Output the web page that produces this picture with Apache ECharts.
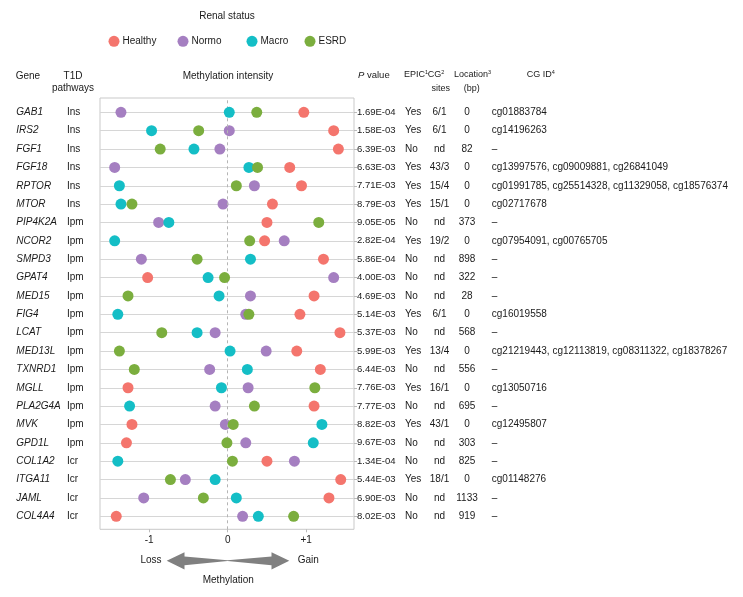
<!DOCTYPE html>
<html><head><meta charset="utf-8">
<script src="https://cdn.jsdelivr.net/npm/echarts@6/dist/echarts.min.js"></script>
<style>html,body{margin:0;padding:0;background:#fff}#c{width:743px;height:597px}</style>
</head><body><div id="c"></div>
<script>
const genes = ['GAB1','IRS2','FGF1','FGF18','RPTOR','MTOR','PIP4K2A','NCOR2','SMPD3','GPAT4','MED15','FIG4','LCAT','MED13L','TXNRD1','MGLL','PLA2G4A','MVK','GPD1L','COL1A2','ITGA11','JAML','COL4A4'];
const pathways = ['Ins','Ins','Ins','Ins','Ins','Ins','Ipm','Ipm','Ipm','Ipm','Ipm','Ipm','Ipm','Ipm','Ipm','Ipm','Ipm','Ipm','Ipm','Icr','Icr','Icr','Icr'];
const pValues = ['1.69E-04','1.58E-03','6.39E-03','6.63E-03','7.71E-03','8.79E-03','9.05E-05','2.82E-04','5.86E-04','4.00E-03','4.69E-03','5.14E-03','5.37E-03','5.99E-03','6.44E-03','7.76E-03','7.77E-03','8.82E-03','9.67E-03','1.34E-04','5.44E-03','6.90E-03','8.02E-03'];
const epic = ['Yes','Yes','No','Yes','Yes','Yes','No','Yes','No','No','No','Yes','No','Yes','No','Yes','No','Yes','No','No','Yes','No','No'];
const cgSites = ['6/1','6/1','nd','43/3','15/4','15/1','nd','19/2','nd','nd','nd','6/1','nd','13/4','nd','16/1','nd','43/1','nd','nd','18/1','nd','nd'];
const locations = ['0','0','82','0','0','0','373','0','898','322','28','0','568','0','556','0','695','0','303','825','0','1133','919'];
const cgIds = ['cg01883784','cg14196263','–','cg13997576, cg09009881, cg26841049','cg01991785, cg25514328, cg11329058, cg18576374','cg02717678','–','cg07954091, cg00765705','–','–','–','cg16019558','–','cg21219443, cg12113819, cg08311322, cg18378267','–','cg13050716','–','cg12495807','–','–','cg01148276','–','–'];

const seriesNames = ['Healthy','Normo','Macro','ESRD'];
const healthy = [0.97,1.35,1.41,0.79,0.94,0.57,0.50,0.47,1.22,-1.02,1.10,0.92,1.43,0.88,1.18,-1.27,1.10,-1.22,-1.29,0.50,1.44,1.29,-1.42];
const normo   = [-1.36,0.02,-0.10,-1.44,0.34,-0.06,-0.88,0.72,-1.10,1.35,0.29,0.23,-0.16,0.49,-0.23,0.26,-0.16,-0.03,0.23,0.85,-0.54,-1.07,0.19];
const macro   = [0.02,-0.97,-0.43,0.27,-1.38,-1.36,-0.75,-1.44,0.29,-0.25,-0.11,-1.40,-0.39,0.03,0.25,-0.08,-1.25,1.20,1.09,-1.40,-0.16,0.11,0.39];
const esrd    = [0.37,-0.37,-0.86,0.38,0.11,-1.22,1.16,0.28,-0.39,-0.04,-1.27,0.27,-0.84,-1.38,-1.19,1.11,0.34,0.07,-0.01,0.06,-0.73,-0.31,0.84];
const xTickValues = [-1, 0, 1];
const xTickLabels = ['-1', '0', '+1'];

const FONT = '"Liberation Sans", Arial, sans-serif';
const TXT = '#1a1a1a';
const colors = ['#F4756D', '#A57FC1', '#14BEC6', '#7BAE3E'];
const XMIN = -1.627, XMAX = 1.609;
const valueSets = [healthy, normo, macro, esrd];

const chart = echarts.init(document.getElementById('c'), null, {renderer: 'canvas'});

const legendLefts = [108.5, 177.5, 246.5, 304.5];
const legends = seriesNames.map((n, i) => ({
  data: [n], left: legendLefts[i], top: 35.8, padding: 0,
  icon: 'circle', itemWidth: 11, itemHeight: 11, itemGap: 0,
  textStyle: {fontFamily: FONT, fontSize: 10, color: TXT, padding: [0, 0, 0, -2]},
  selectedMode: false
}));

const sup = {fontFamily: FONT, fontSize: 5.5, color: TXT, verticalAlign: 'top', lineHeight: 11};
const hdr = {fontFamily: FONT, fontSize: 9, color: TXT, lineHeight: 11};
function txt(x, y, text, align, extra) {
  return {type: 'text', x: x, y: y, silent: true,
    style: Object.assign({text: text, fontFamily: FONT, fontSize: 10, fill: TXT, align: align || 'left', verticalAlign: 'middle'}, extra || {})};
}

const option = {
  animation: false,
  backgroundColor: '#fff',
  legend: legends,
  grid: [
    {left: 100, top: 112.3, width: 254, height: 404, show: false},
    {left: 100, top: 98, width: 254, height: 431.3, show: true, borderColor: '#c9c9c9', borderWidth: 1, z: 0}
  ],
  xAxis: [
    {gridIndex: 0, type: 'value', min: XMIN, max: XMAX, show: false},
    {gridIndex: 1, type: 'value', min: XMIN, max: XMAX,
      axisLine: {show: false}, splitLine: {show: false},
      axisTick: {show: true, inside: false, length: 3, customValues: xTickValues, lineStyle: {color: '#bbb'}},
      axisLabel: {show: true, customValues: xTickValues, margin: 6, fontFamily: FONT, fontSize: 10, color: TXT,
        formatter: function (v) { const k = xTickValues.indexOf(v); return k >= 0 ? xTickLabels[k] : ''; }}}
  ],
  yAxis: [
    {gridIndex: 0, type: 'category', data: genes, inverse: true, boundaryGap: false, position: 'left',
      axisLine: {show: false}, axisTick: {show: false},
      splitLine: {show: true, lineStyle: {color: '#d6d6d6', width: 1}},
      axisLabel: {margin: 8, interval: 0,
        formatter: function (v, i) { return '{g|' + genes[i] + '}{p|' + pathways[i] + '}'; },
        rich: {
          g: {fontFamily: FONT, fontSize: 10, fontStyle: 'italic', color: TXT, width: 50.7, align: 'left'},
          p: {fontFamily: FONT, fontSize: 10, color: TXT, width: 25, align: 'left'}
        }}},
    {gridIndex: 0, type: 'category', data: genes, inverse: true, boundaryGap: false, position: 'right',
      axisLine: {show: false}, splitLine: {show: false},
      axisTick: {show: true, inside: false, length: 3, interval: 0, lineStyle: {color: '#bbb'}},
      axisLabel: {margin: 3, interval: 0,
        formatter: function (v, i) {
          return '{pv|' + pValues[i] + '}{ep|' + epic[i] + '}{si|' + cgSites[i] + '}{lo|' + locations[i] + '}{sp|}{cg|' + cgIds[i] + '}';
        },
        rich: {
          pv: {fontFamily: FONT, fontSize: 9.5, color: TXT, width: 48, align: 'left'},
          ep: {fontFamily: FONT, fontSize: 10, color: TXT, width: 19, align: 'left'},
          si: {fontFamily: FONT, fontSize: 10, color: TXT, width: 31, align: 'center'},
          lo: {fontFamily: FONT, fontSize: 10, color: TXT, width: 24, align: 'center'},
          sp: {width: 12.8},
          cg: {fontFamily: FONT, fontSize: 10, color: TXT, align: 'left'}
        }}},
    {gridIndex: 1, type: 'value', min: 0, max: 1, show: false}
  ],
  series: seriesNames.map((n, s) => ({
    name: n, type: 'scatter', xAxisIndex: 0, yAxisIndex: 0,
    symbol: 'circle', symbolSize: 11, z: 3 + s,
    itemStyle: {color: colors[s], opacity: 1},
    data: valueSets[s].map((v, i) => [v, genes[i]])
  })).concat([{
    name: 'zero', type: 'scatter', xAxisIndex: 1, yAxisIndex: 2, data: [], z: 1,
    markLine: {silent: true, symbol: 'none', label: {show: false},
      lineStyle: {color: '#b5b5b5', type: [3, 3], width: 1},
      data: [{xAxis: 0}]}
  }]),
  graphic: [
    txt(227, 16, 'Renal status', 'center'),
    txt(15.7, 76, 'Gene', 'left'),
    txt(73, 76, 'T1D', 'center'),
    txt(73, 88, 'pathways', 'center'),
    txt(228, 76, 'Methylation intensity', 'center'),
    txt(358, 75, '{i|P} value', 'left', {fontSize: 9.5, rich: {i: Object.assign({}, hdr, {fontSize: 9.5, fontStyle: 'italic'})}}),
    txt(404, 75, '{t|EPIC}{s|1}', 'left', {rich: {t: hdr, s: sup}}),
    txt(427.7, 75, '{t|CG}{s|2}', 'left', {rich: {t: hdr, s: sup}}),
    txt(440.7, 89, 'sites', 'center', {fontSize: 9}),
    txt(454, 75, '{t|Location}{s|3}', 'left', {rich: {t: hdr, s: sup}}),
    txt(471.7, 89, '(bp)', 'center', {fontSize: 9}),
    txt(526.7, 75, '{t|CG ID}{s|4}', 'left', {rich: {t: hdr, s: sup}}),
    {type: 'polygon', silent: true,
      shape: {points: [[166.7,560.7],[184.5,552.3],[184.5,556.5],[227.5,560.3],[271.5,556.5],[271.5,552.3],[289.3,560.7],[271.5,569.5],[271.5,565.2],[227.5,561.1],[184.5,565.2],[184.5,569.5]]},
      style: {fill: '#808080'}},
    txt(151, 560.7, 'Loss', 'center'),
    txt(308.3, 560.7, 'Gain', 'center'),
    txt(228.3, 580.7, 'Methylation', 'center')
  ]
};
chart.setOption(option);
</script></body></html>
